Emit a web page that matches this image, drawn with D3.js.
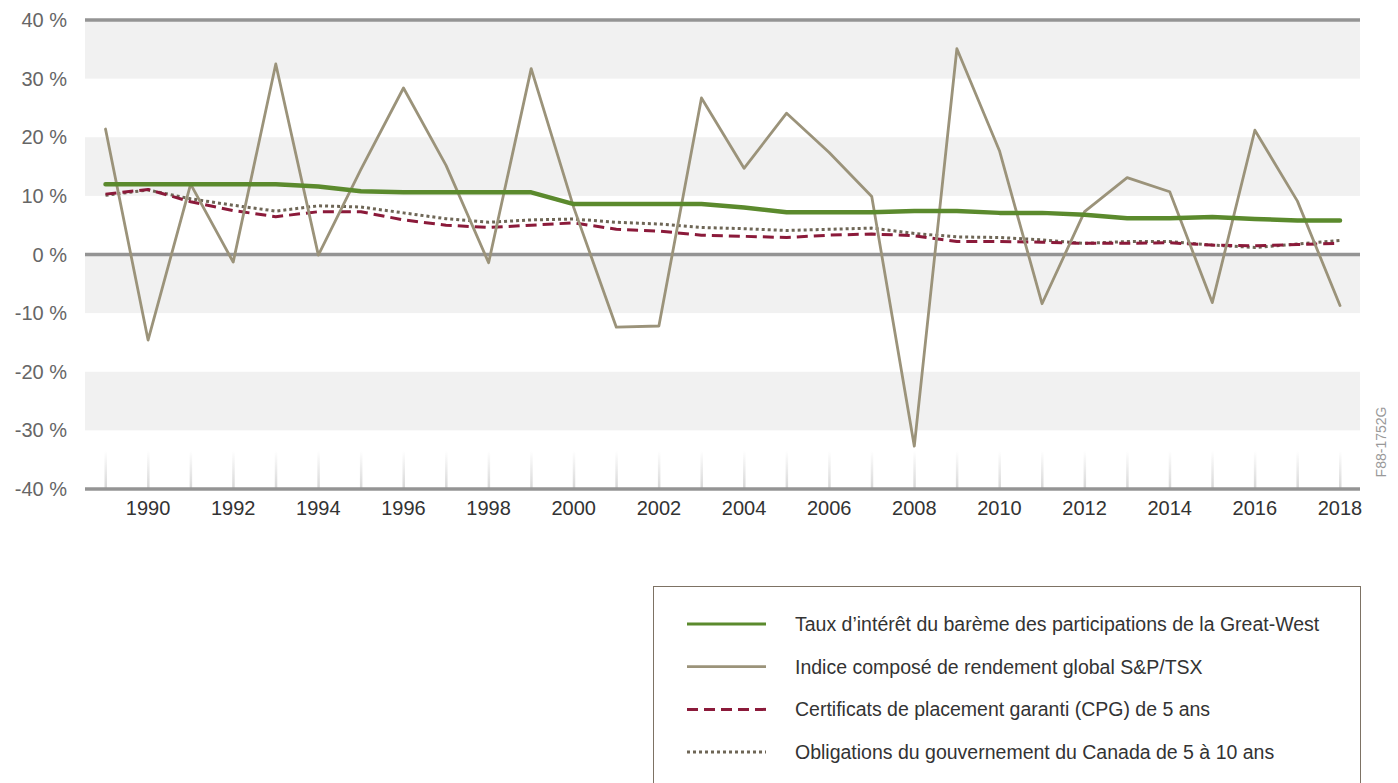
<!DOCTYPE html>
<html>
<head>
<meta charset="utf-8">
<script src="https://cdn.jsdelivr.net/npm/d3@7"></script>
<style>
  body { margin: 0; background: #fff; }
  svg { font-family: "Liberation Sans", Arial, sans-serif; }
</style>
</head>
<body>
<div id="chart"></div>
<script>
const years = d3.range(1989, 2019);

const greatWest = [12.0, 12.0, 12.0, 12.0, 12.0, 11.6, 10.8, 10.6, 10.6, 10.6,
  10.6, 8.6, 8.6, 8.6, 8.6, 8.0, 7.2, 7.2, 7.2, 7.4, 7.4, 7.1, 7.1, 6.8,
  6.2, 6.2, 6.4, 6.05, 5.8, 5.8];

const tsx = [21.4, -14.6, 12.0, -1.3, 32.5, -0.1, 14.5, 28.4, 15.2, -1.4,
  31.7, 8.0, -12.4, -12.2, 26.7, 14.7, 24.1, 17.4, 9.9, -32.7, 35.1, 17.7,
  -8.4, 7.3, 13.1, 10.7, -8.2, 21.2, 9.1, -8.7];

const cpg = [10.3, 11.1, 9.0, 7.5, 6.45, 7.3, 7.3, 5.9, 5.0, 4.6, 5.0, 5.4,
  4.3, 4.0, 3.3, 3.1, 2.9, 3.3, 3.5, 3.2, 2.2, 2.2, 2.1, 1.9, 1.9, 2.0, 1.6,
  1.5, 1.7, 1.9];

const bonds = [10.1, 11.0, 9.5, 8.4, 7.4, 8.3, 8.1, 7.1, 6.1, 5.5, 5.9, 6.05,
  5.5, 5.2, 4.6, 4.4, 4.1, 4.3, 4.5, 3.6, 3.0, 2.9, 2.5, 1.9, 2.2, 2.2, 1.6,
  1.2, 1.8, 2.4];

const yTicks = [40, 30, 20, 10, 0, -10, -20, -30, -40];
const xTickYears = d3.range(1990, 2019, 2);

const legendLabels = [
  "Taux d\u2019intérêt du barème des participations de la Great-West",
  "Indice composé de rendement global S&P/TSX",
  "Certificats de placement garanti (CPG) de 5 ans",
  "Obligations du gouvernement du Canada de 5 à 10 ans"
];

const width = 1398, height = 783;
const plotLeft = 85, plotRight = 1360;

const svg = d3.select("#chart").append("svg")
  .attr("width", width)
  .attr("height", height);

const x = d3.scaleLinear().domain([1989, 2018]).range([105.5, 1340]);
const y = d3.scaleLinear().domain([-40, 40]).range([489, 20]);

// gradient for the little year ticks
const defs = svg.append("defs");
const grad = defs.append("linearGradient")
  .attr("id", "tickGrad")
  .attr("x1", 0).attr("y1", 0).attr("x2", 0).attr("y2", 1);
grad.append("stop").attr("offset", "0%").attr("stop-color", "#fff");
grad.append("stop").attr("offset", "100%").attr("stop-color", "#d6d6d6");

// alternating bands
const bands = [[40, 30], [20, 10], [0, -10], [-20, -30]];
svg.append("g").selectAll("rect")
  .data(bands)
  .enter()
  .append("rect")
  .attr("x", plotLeft)
  .attr("width", plotRight - plotLeft)
  .attr("y", d => y(d[0]))
  .attr("height", d => y(d[1]) - y(d[0]))
  .attr("fill", "#f1f1f1");

// year ticks at bottom
svg.append("g").selectAll("rect")
  .data(years)
  .enter()
  .append("rect")
  .attr("x", d => x(d) - 1)
  .attr("y", y(-40) - 38)
  .attr("width", 2.5)
  .attr("height", 38)
  .attr("fill", "url(#tickGrad)");

// axis lines at 40, 0, -40
svg.append("g").selectAll("line")
  .data([40, 0, -40])
  .enter()
  .append("line")
  .attr("x1", plotLeft)
  .attr("x2", plotRight)
  .attr("y1", d => y(d))
  .attr("y2", d => y(d))
  .attr("stroke", "#949494")
  .attr("stroke-width", 3.5);

// y labels
svg.append("g").selectAll("text")
  .data(yTicks)
  .enter()
  .append("text")
  .attr("x", 67)
  .attr("y", d => y(d) + 7)
  .attr("text-anchor", "end")
  .style("font-size", "20px")
  .attr("fill", "#666")
  .text(d => d + " %");

// x labels
svg.append("g").selectAll("text")
  .data(xTickYears)
  .enter()
  .append("text")
  .attr("x", d => x(d))
  .attr("y", 515)
  .attr("text-anchor", "middle")
  .style("font-size", "20px")
  .attr("fill", "#333")
  .text(d => d);

// series
const series = [
  { values: bonds, color: "#6e6656", width: 3, dash: "3,3" },
  { values: cpg, color: "#8b1a3a", width: 3, dash: "11,6" },
  { values: tsx, color: "#9b937a", width: 2.8, dash: null },
  { values: greatWest, color: "#5b8a2d", width: 4.5, dash: null }
];

const line = d3.line()
  .x((d, i) => x(years[i]))
  .y(d => y(d));

svg.append("g").selectAll("path")
  .data(series)
  .enter()
  .append("path")
  .attr("d", d => line(d.values))
  .attr("fill", "none")
  .attr("stroke", d => d.color)
  .attr("stroke-width", d => d.width)
  .attr("stroke-dasharray", d => d.dash)
  .attr("stroke-linejoin", "round")
  .attr("stroke-linecap", d => d.dash ? "butt" : "round");

// figure code on the right
svg.append("text")
  .attr("transform", "translate(1386,442) rotate(-90)")
  .attr("text-anchor", "middle")
  .style("font-size", "14px")
  .attr("fill", "#999")
  .text("F88-1752G");

// legend
const legend = svg.append("g");
legend.append("rect")
  .attr("x", 653.5)
  .attr("y", 586.5)
  .attr("width", 707)
  .attr("height", 220)
  .attr("fill", "#fff")
  .attr("stroke", "#7d7264")
  .attr("stroke-width", 1);

const legendSeries = [series[3], series[2], series[1], series[0]];
const items = legend.selectAll("g.item")
  .data(legendSeries)
  .enter()
  .append("g")
  .attr("class", "item")
  .attr("transform", (d, i) => `translate(0,${624 + i * 42.7})`);

items.append("line")
  .attr("x1", 687)
  .attr("x2", 766)
  .attr("stroke", d => d.color)
  .attr("stroke-width", d => Math.min(d.width, 3))
  .attr("stroke-dasharray", d => d.dash);

items.append("text")
  .attr("x", 795)
  .attr("y", 7)
  .style("font-size", "19.5px")
  .attr("fill", "#333")
  .text((d, i) => legendLabels[i]);
</script>
</body>
</html>
